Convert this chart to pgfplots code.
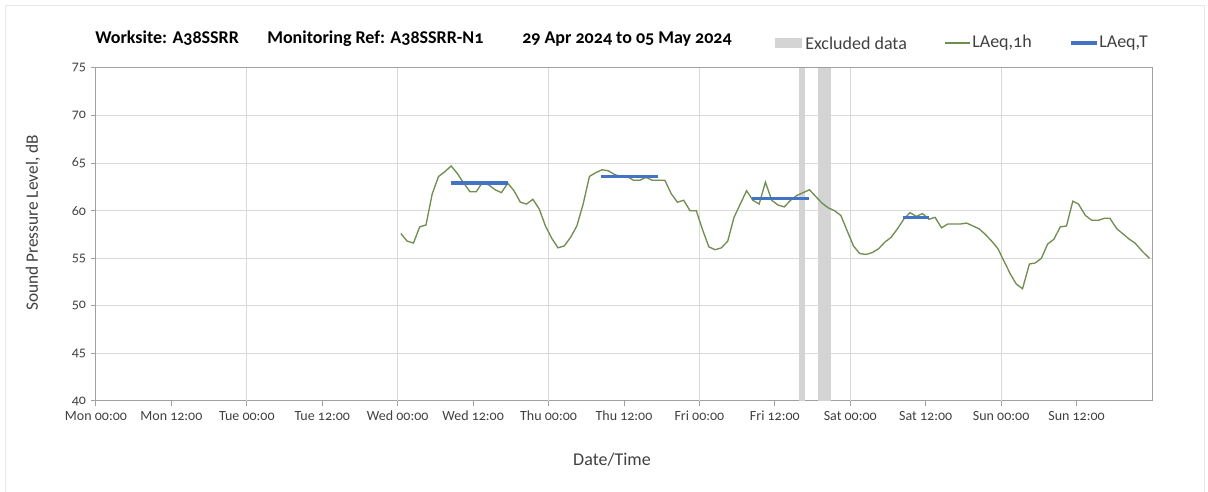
\documentclass[border=0pt]{standalone}
\usepackage{fontspec}
\setmainfont{Carlito}[Numbers=OldStyle]
\usepackage{pgfplots}
\usepackage{pgfplotstable}
\pgfplotsset{compat=1.18}
\definecolor{lgreen}{RGB}{112,142,80}
\definecolor{lblue}{RGB}{68,114,196}
\definecolor{excl}{RGB}{212,212,212}
\definecolor{gridc}{RGB}{217,217,217}
\definecolor{axc}{RGB}{160,160,160}
\definecolor{txt}{RGB}{64,64,64}

% hours since Mon 00:00, LAeq,1h in dB
\pgfplotstableread{
h db
48.5 57.6
49.5 56.8
50.5 56.6
51.5 58.3
52.5 58.5
53.5 61.8
54.5 63.6
55.5 64.1
56.5 64.7
57.5 63.9
58.5 62.9
59.5 62.0
60.5 62.0
61.5 63.0
62.5 62.7
63.5 62.2
64.5 61.9
65.5 62.9
66.5 62.1
67.5 60.9
68.5 60.7
69.5 61.2
70.5 60.2
71.5 58.4
72.5 57.1
73.5 56.1
74.5 56.3
75.5 57.2
76.5 58.4
77.5 60.7
78.5 63.6
79.5 64.0
80.5 64.3
81.5 64.2
82.5 63.8
83.5 63.6
84.5 63.6
85.5 63.2
86.5 63.2
87.5 63.5
88.5 63.2
89.5 63.2
90.5 63.2
91.5 61.8
92.5 60.9
93.5 61.1
94.5 60.0
95.5 60.0
96.5 58.0
97.5 56.2
98.5 55.9
99.5 56.1
100.5 56.8
101.5 59.3
102.5 60.7
103.5 62.1
104.5 61.1
105.5 60.7
106.5 63.0
107.5 61.1
108.5 60.6
109.5 60.4
110.5 61.1
111.5 61.6
112.5 61.9
113.5 62.2
114.5 61.5
115.5 60.8
116.5 60.3
117.5 60.0
118.5 59.5
119.5 57.9
120.5 56.3
121.5 55.5
122.5 55.4
123.5 55.6
124.5 56.0
125.5 56.7
126.5 57.2
127.5 58.1
128.5 59.1
129.5 59.8
130.5 59.4
131.5 59.7
132.5 59.1
133.5 59.3
134.5 58.2
135.5 58.6
136.5 58.6
137.5 58.6
138.5 58.7
139.5 58.4
140.5 58.1
141.5 57.5
142.5 56.8
143.5 56.0
144.3 54.9
145.5 53.3
146.4 52.3
147.4 51.8
148.5 54.4
149.4 54.5
150.4 55.0
151.4 56.5
152.4 57.0
153.4 58.3
154.4 58.4
155.4 61.0
156.3 60.7
157.4 59.5
158.4 59.0
159.5 59.0
160.4 59.2
161.3 59.2
162.4 58.1
163.5 57.5
164.4 57.0
165.3 56.6
166.5 55.7
167.6 55.0
}\laeqh

\begin{document}
\begin{tikzpicture}[x=0.75pt, y=0.75pt]
\useasboundingbox (0,0) rectangle (1208,492);
\draw[gray!18, line width=0.75pt] (5,0) -- (5,486) -- (1204,486) -- (1204,0);

\begin{axis}[
  at={(72pt,68.25pt)}, anchor=south west,
  scale only axis, width=792pt, height=249.75pt,
  xmin=0, xmax=168, ymin=40, ymax=75,
  xtick={0,12,...,156},
  xticklabels={Mon 00:00, Mon 12:00, Tue 00:00, Tue 12:00, Wed 00:00, Wed 12:00,
    Thu 00:00, Thu 12:00, Fri 00:00, Fri 12:00, Sat 00:00, Sat 12:00,
    Sun 00:00, Sun 12:00},
  ytick={40,45,...,75},
  ymajorgrids,
  extra x ticks={24,48,...,144},
  extra x tick labels={},
  extra x tick style={grid=major, major tick length=0pt},
  grid style={gridc, line width=0.75pt},
  axis line style={axc, line width=0.75pt},
  tick style={axc, line width=0.75pt},
  tick align=outside, major tick length=4pt,
  tick pos=left,
  ticklabel style={font=\fontsize{10.5}{12}\selectfont, text=txt},
  /pgf/number format/assume math mode=true,
]
  % excluded data
  \addplot[fill=excl, draw=none] coordinates {(111.8,40) (111.8,75) (112.8,75) (112.8,40)} -- cycle;
  \addplot[fill=excl, draw=none] coordinates {(114.9,40) (114.9,75) (116.9,75) (116.9,40)} -- cycle;
  % LAeq,1h
  \addplot[lgreen, line width=1pt, no marks] table[x=h, y=db] {\laeqh};
  % LAeq,T
  \addplot[lblue, line width=2.5pt, no marks] coordinates {(56.4,62.9) (65.6,62.9)};
  \addplot[lblue, line width=2.5pt, no marks] coordinates {(80.3,63.6) (89.4,63.6)};
  \addplot[lblue, line width=2.5pt, no marks] coordinates {(104.4,61.3) (113.5,61.3)};
  \addplot[lblue, line width=2.5pt, no marks] coordinates {(128.4,59.3) (132.6,59.3)};
\end{axis}

% title
\begin{scope}[every node/.style={anchor=base west, inner sep=0pt, font=\fontsize{13.5}{16}\selectfont\bfseries}]
  \node at (95,448) {Worksite: A38SSRR};
  \node at (267,448) {Monitoring Ref: A38SSRR-N1};
  \node at (522,448) {29 Apr 2024 to 05 May 2024};
\end{scope}

% legend
\fill[excl] (775,444) rectangle (802,454);
\node[anchor=west, inner sep=0pt, text=txt, font=\fontsize{13.5}{16}\selectfont] at (805,449) {Excluded data};
\draw[lgreen, line width=1pt] (945,449) -- (970,449);
\node[anchor=west, inner sep=0pt, text=txt, font=\fontsize{13.5}{16}\selectfont] at (972,449) {LAeq,1h};
\draw[lblue, line width=2.5pt] (1071,449) -- (1097,449);
\node[anchor=west, inner sep=0pt, text=txt, font=\fontsize{13.5}{16}\selectfont] at (1099,449) {LAeq,T};

% axis titles
\node[text=txt, font=\fontsize{13.5}{16}\selectfont] at (612,32) {Date/Time};
\node[text=txt, rotate=90, font=\fontsize{13}{16}\selectfont] at (33,269) {Sound Pressure Level, dB};
\end{tikzpicture}
\end{document}
